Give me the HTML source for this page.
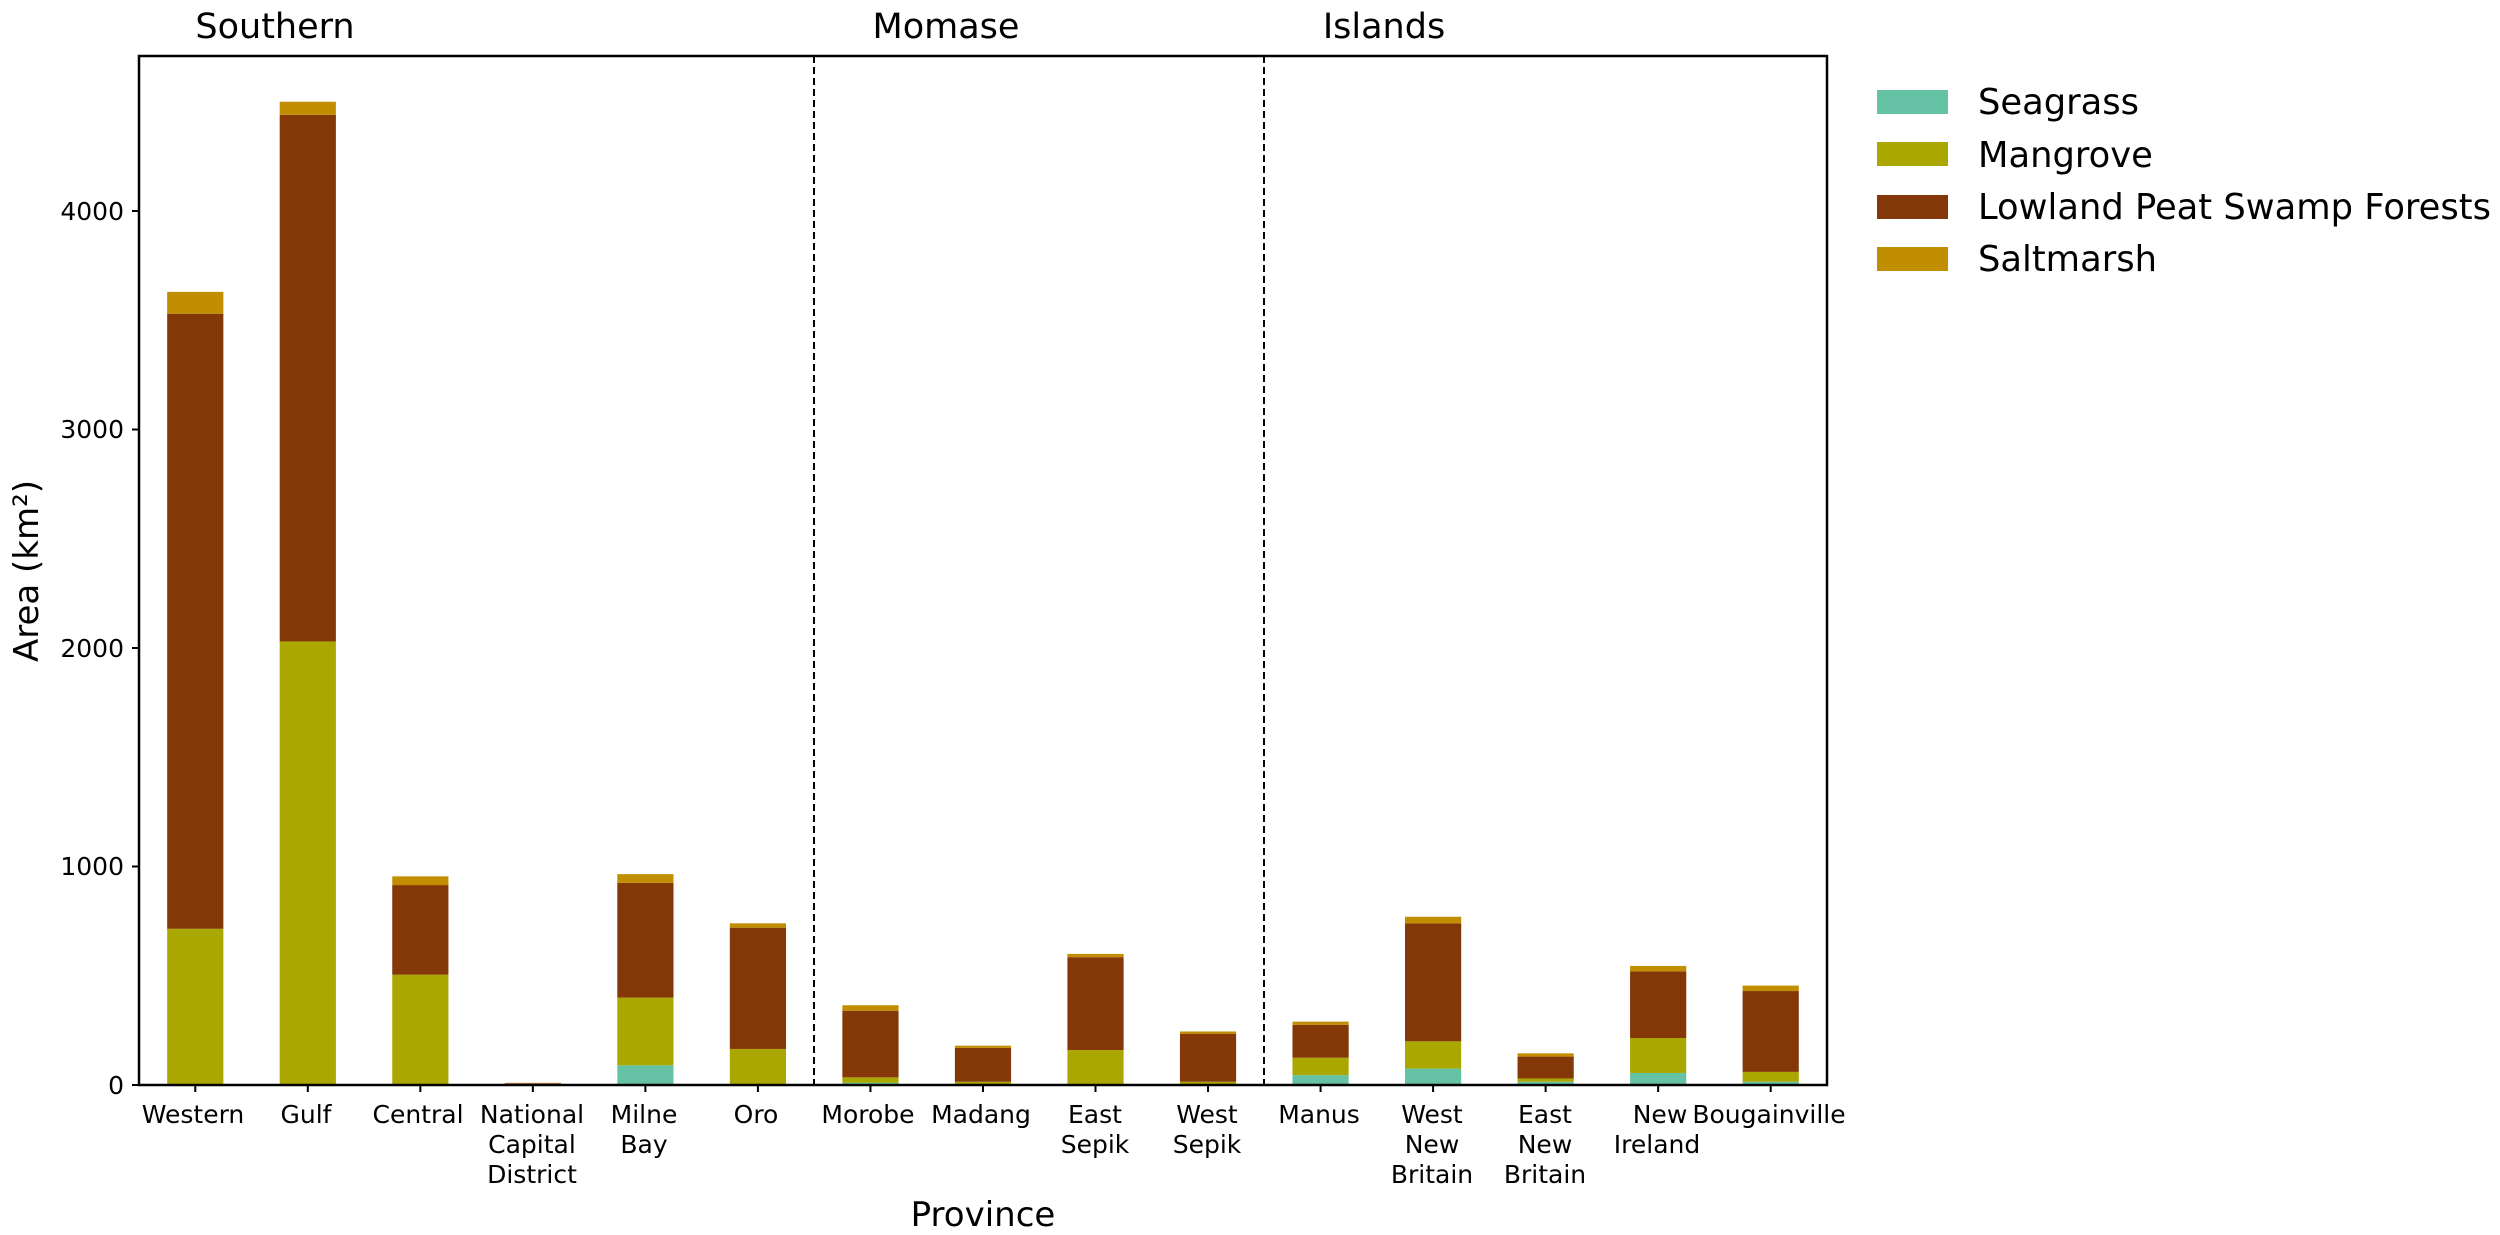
<!DOCTYPE html>
<html><head><meta charset="utf-8"><style>
html,body{margin:0;padding:0;background:#fff;}
svg{display:block;font-family:"DejaVu Sans","Liberation Sans",sans-serif;}
</style></head><body>
<svg id="s" width="2500" height="1235" viewBox="0 0 2500 1235" xmlns="http://www.w3.org/2000/svg">
<rect width="2500" height="1235" fill="#fff"/>
<g id="bars"></g>
<line x1="814" y1="56" x2="814" y2="1085" stroke="#000" stroke-width="2" stroke-dasharray="7,4"/>
<line x1="1264" y1="56" x2="1264" y2="1085" stroke="#000" stroke-width="2" stroke-dasharray="7,4"/>
<rect x="139" y="56" width="1688" height="1029" fill="none" stroke="#000" stroke-width="2.5"/>
<g stroke="#000" stroke-width="2">
<line x1="132" y1="1085" x2="139" y2="1085"/><line x1="132" y1="866.5" x2="139" y2="866.5"/>
<line x1="132" y1="648" x2="139" y2="648"/><line x1="132" y1="429.5" x2="139" y2="429.5"/>
<line x1="132" y1="211" x2="139" y2="211"/>
</g>
<g font-size="25" text-anchor="end">
<text x="124" y="1094">0</text><text x="124" y="875">1000</text><text x="124" y="657">2000</text>
<text x="124" y="438">3000</text><text x="124" y="220">4000</text>
</g>
<g id="ticks" stroke="#000" stroke-width="2"></g>
<g font-size="25" text-anchor="middle">
<text x="193" y="1123">Western</text>
<text x="306" y="1123">Gulf</text>
<text x="418" y="1123">Central</text>
<text x="532" y="1123">National</text><text x="532" y="1153">Capital</text><text x="532" y="1183">District</text>
<text x="644" y="1123">Milne</text><text x="644" y="1153">Bay</text>
<text x="756" y="1123">Oro</text>
<text x="868" y="1123">Morobe</text>
<text x="981" y="1123">Madang</text>
<text x="1095" y="1123">East</text><text x="1095" y="1153">Sepik</text>
<text x="1207" y="1123">West</text><text x="1207" y="1153">Sepik</text>
<text x="1319" y="1123">Manus</text>
<text x="1432" y="1123">West</text><text x="1432" y="1153">New</text><text x="1432" y="1183">Britain</text>
<text x="1545" y="1123">East</text><text x="1545" y="1153">New</text><text x="1545" y="1183">Britain</text>
<text x="1660" y="1123">New</text><text x="1657" y="1153">Ireland</text>
<text x="1769" y="1123">Bougainville</text>
</g>
<text x="983" y="1226" font-size="34" text-anchor="middle">Province</text>
<text transform="translate(38,571) rotate(-90)" font-size="34" text-anchor="middle">Area (km²)</text>
<g font-size="35" text-anchor="middle">
<text x="275" y="38">Southern</text>
<text x="946" y="38">Momase</text>
<text x="1384" y="38">Islands</text>
</g>
<rect x="1877" y="90" width="71" height="24" fill="#66c2a5"/>
<rect x="1877" y="142" width="71" height="24" fill="#aaa800"/>
<rect x="1877" y="195" width="71" height="24" fill="#843808"/>
<rect x="1877" y="247" width="71" height="24" fill="#c08e00"/>
<g font-size="35.3">
<text x="1978" y="114">Seagrass</text>
<text x="1978" y="167">Mangrove</text>
<text x="1978" y="219">Lowland Peat Swamp Forests</text>
<text x="1978" y="271">Saltmarsh</text>
</g>
</svg>
<script>
var d=[[5,715,3530,3630],[0,2030,4440,4500],[5,505,915,955],[0,5,8,10],[90,400,925,965],[5,165,720,740],[10,35,340,365],[0,15,170,180],[5,160,585,600],[0,15,235,245],[45,125,275,290],[75,200,740,770],[15,30,130,145],[55,215,520,545],[15,60,430,455]];
var c=["#66c2a5","#aaa800","#843808","#c08e00"];
var ns="http://www.w3.org/2000/svg",g=document.getElementById("bars"),t=document.getElementById("ticks");
function Y(v){return 1085-v*0.2185;}
d.forEach(function(r,i){var cx=139+56.27+112.53*i,prev=0;
r.forEach(function(v,k){if(v>prev){var e=document.createElementNS(ns,"rect");e.setAttribute("x",cx-28.1);e.setAttribute("width",56.2);e.setAttribute("y",Y(v));e.setAttribute("height",Y(prev)-Y(v));e.setAttribute("fill",c[k]);g.appendChild(e);prev=v;}});
var l=document.createElementNS(ns,"line");l.setAttribute("x1",cx);l.setAttribute("x2",cx);l.setAttribute("y1",1085);l.setAttribute("y2",1092);t.appendChild(l);});
</script>
</body></html>
